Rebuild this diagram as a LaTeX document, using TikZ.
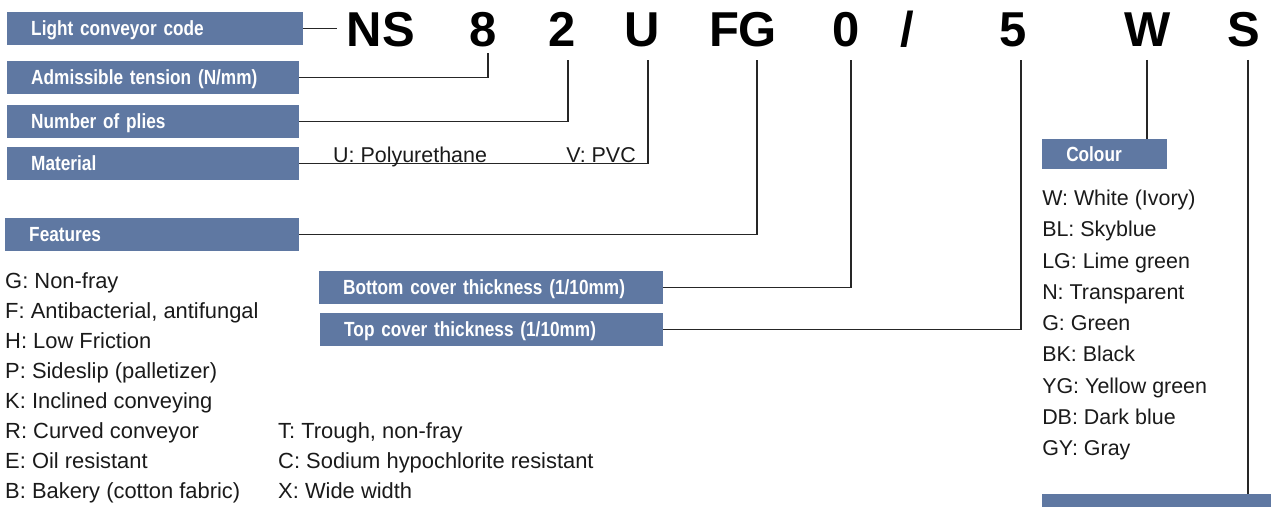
\documentclass[tikz,border=0pt]{standalone}
\usepackage{fontspec}
\setmainfont{Liberation Sans}
\newfontfamily\tagfont[FakeStretch=0.84]{Liberation Sans}
\usepackage{xcolor}
\usetikzlibrary{positioning}
\definecolor{Slate}{HTML}{5F78A2}
\definecolor{Ink}{HTML}{1A1A1A}

\begin{document}
\begin{tikzpicture}[x=0.03cm,y=-0.03cm,
  tagbox/.style={fill=Slate,text=white,anchor=west,minimum height=0.99cm,inner xsep=0.72cm,inner ysep=0pt,
    text width=#1,text depth=0pt,align=left,font=\tagfont\bfseries\fontsize{17.5}{19}\selectfont},
  codechar/.style={anchor=base,inner ysep=0pt,inner xsep=8.5pt,font=\bfseries\fontsize{41.8}{44}\selectfont,text=black},
  item/.style={anchor=base west,inner sep=0pt,font=\fontsize{18.3}{20}\selectfont,text=Ink},
  lead/.style={line width=1pt,draw=black!85}]
  \clip (0,0) rectangle (1271,506);

  % code letters
  \foreach \n/\x/\t in {ns/381/NS,eight/483/8,two/562/2,uu/642/U,fg/743/FG,zero/846/0,five/1013/5,ww/1148/W,ss/1244/S}
    \node[codechar] (\n) at (\x,47) {\t};
  \node[codechar] (slash) at (907,47) {/};

  \coordinate (tip8) at (488,53);
  \coordinate (tip2) at (568,60);
  \coordinate (tipU) at (648,60);
  \coordinate (tipFG) at (757,60);
  \coordinate (tip0) at (851,60);
  \coordinate (tip5) at (1021,60);
  \coordinate (tipW) at (1147,60);
  \coordinate (tipS) at (1248,60);

  % label boxes
  \node[tagbox=7.44cm] (code) at (7,28.5) {Light conveyor code};
  \node[tagbox=7.32cm] (tension) at (7,77.5) {Admissible tension (N/mm)};
  \node[tagbox=7.32cm] (plies) at (7,121.5) {Number of plies};
  \node[tagbox=7.32cm] (material) at (7,163.5) {Material};
  \node[tagbox=7.38cm] (features) at (5,234.5) {Features};
  \node[tagbox=8.88cm] (bottom) at (319,287.5) {Bottom cover thickness (1/10mm)};
  \node[tagbox=8.85cm] (top) at (320,329.5) {Top cover thickness (1/10mm)};
  \node[tagbox=2.31cm,minimum height=0.9cm] (colour) at (1042,154) {Colour};
  \node[tagbox=5.76cm] (belt) at (1042,510.5) {};

  % leaders
  \draw[lead] (code.east) -- (code.east -| ns.west);
  \draw[lead] (tension.east) -| (tip8);
  \draw[lead] (plies.east) -| (tip2);
  \draw[lead] (material.east) -| (tipU);
  \draw[lead] (features.east) -| (tipFG);
  \draw[lead] (bottom.east) -| (tip0);
  \draw[lead] (top.east) -| (tip5);
  \draw[lead] (tipW) -- (tipW |- colour.north);
  \draw[lead] (tipS) -- (tipS |- belt.north);

  % material options
  \node[item] (poly) at (333,162) {U: Polyurethane};
  \node[item,anchor=base east] (pvc) at (636,162) {V: PVC};

  % feature list
  \foreach \t [count=\i from 0] in {G: Non-fray,{F: Antibacterial, antifungal},H: Low Friction,P: Sideslip (palletizer),
      K: Inclined conveying,R: Curved conveyor,E: Oil resistant,B: Bakery (cotton fabric)}
    \node[item,font=\fontsize{18.7}{20}\selectfont] (feat\i) at (5,{288.5+30*\i}) {\t};
  \foreach \t [count=\i from 0] in {{T: Trough, non-fray},C: Sodium hypochlorite resistant,X: Wide width}
    \node[item,font=\fontsize{18.7}{20}\selectfont] (extra\i) at (278,{438.5+30*\i}) {\t};

  % colour list
  \foreach \t [count=\i from 0] in {W: White (Ivory),BL: Skyblue,LG: Lime green,N: Transparent,G: Green,
      BK: Black,YG: Yellow green,DB: Dark blue,GY: Gray}
    \node[item] (hue\i) at (1042,{205.5+31.25*\i}) {\t};
\end{tikzpicture}
\end{document}
